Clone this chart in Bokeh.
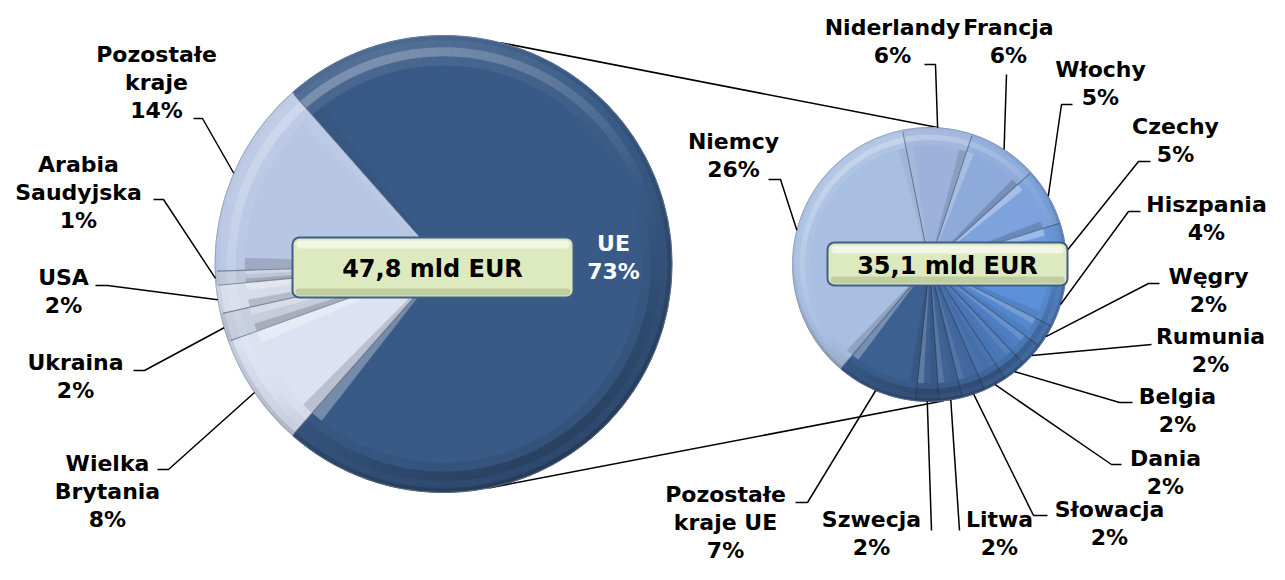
import math
import numpy as np
from bokeh.plotting import figure
from bokeh.models import Range1d, BoxAnnotation
from bokeh.core.properties import value
from bokeh.embed import file_html
from bokeh.resources import INLINE

# ---------------- data ----------------
left_names = ["UE", "Pozostałe\nkraje", "Arabia\nSaudyjska", "USA", "Ukraina", "Wielka\nBrytania"]
left_shares = [73, 14, 1, 2, 2, 8]
left_total = "47,8 mld EUR"

right_names = ["Niderlandy", "Francja", "Włochy", "Czechy", "Hiszpania", "Węgry", "Rumunia",
               "Belgia", "Dania", "Słowacja", "Litwa", "Szwecja", "Pozostałe\nkraje UE", "Niemcy"]
right_shares = [6, 6, 5, 5, 4, 2, 2, 2, 2, 2, 2, 2, 7, 26]
right_total = "35,1 mld EUR"

# ---------------- styles / layout ----------------
left_colors = ["#395A86", "#B7C6E3", "#BCC5D8", "#D6DCE9", "#C6CDDD", "#DCE2F2"]
right_colors = ["#9DB2DA", "#8DAADA", "#7DA2DC", "#6C9ADC", "#5C90D8", "#5587CD", "#4F7FC2",
                "#4A77B6", "#466FAA", "#43689F", "#406396", "#3D5E8E", "#3C6090", "#A9BFE1"]

W, H = 1269, 564
LCX, LCY, LR = 443.0, 263.5, 228.5
RCX, RCY, RR = 929.0, 264.0, 137.0
RIGHT_START = math.radians(101.4)
LIGHT = math.radians(118)
FONT = "DejaVu Sans"

left_label_pos = [(613, 257), (156, 82), (78, 192), (63, 291), (75, 376), (107, 491)]
left_leader = [None, [(193, 118), (202, 118)], [(153, 199), (163, 199)], [(95, 285), (107, 285)],
               [(133, 370), (144, 370)], [(157, 469), (168, 469)]]
right_label_pos = [(892, 41), (1008, 41), (1100, 83), (1175, 140), (1206, 218), (1208, 290),
                   (1210, 350), (1177, 410), (1165, 472), (1109, 523), (999, 533), (871, 533),
                   (725, 522), (733, 155)]
right_leader = [[(924, 64), (935, 64)], [(1006, 74)], [(1072, 104), (1061, 104)],
                [(1150, 161), (1138, 161)], [(1140, 211), (1128, 211)], [(1159, 283), (1148, 283)],
                [(1151, 344)], [(1132, 402), (1119, 402)], [(1121, 464), (1111, 464)],
                [(1047, 515), (1033, 515)], [(959, 530)], [(931, 530)],
                [(795, 502), (807, 502)], [(768, 179), (780, 179)]]


def Y(y):
    return -y


def blend(hexc, amt):
    r, g, b = int(hexc[1:3], 16), int(hexc[3:5], 16), int(hexc[5:7], 16)
    if amt >= 0:
        t = 255
    else:
        t = 0
        amt = -amt
    amt = min(amt, 1.0)
    r = round(r + (t - r) * amt)
    g = round(g + (t - g) * amt)
    b = round(b + (t - b) * amt)
    return "#%02x%02x%02x" % (r, g, b)


p = figure(width=W, height=H, output_backend="svg", toolbar_location=None,
           x_range=Range1d(0, W), y_range=Range1d(-H, 0),
           x_axis_type=None, y_axis_type=None, min_border=0)
p.grid.visible = False
p.outline_line_color = None
p.background_fill_color = "white"
p.border_fill_color = "white"


def angles_anticlock(shares, start):
    f = np.array(shares, dtype=float)
    f = f / f.sum() * 2 * np.pi
    cum = np.concatenate([[0.0], np.cumsum(f)])
    return start + cum[:-1], start + cum[1:]


def angles_clock(shares, start):
    f = np.array(shares, dtype=float)
    f = f / f.sum() * 2 * np.pi
    cum = np.concatenate([[0.0], np.cumsum(f)])
    return start - cum[1:], start - cum[:-1]


def draw_pie(cx, cy, r, starts, ends, colors):
    p.wedge(x=[cx] * len(starts), y=[Y(cy)] * len(starts), radius=r,
            start_angle=list(starts), end_angle=list(ends), fill_color=colors,
            line_color=colors, line_width=0.5)
    # radial bevel strips
    xs, ys, cs = [], [], []
    for s, e, c in zip(starts, ends, colors):
        rr = 0.9 * r
        arc = (e - s) * rr
        w = min(0.055 * r, 0.3 * arc)
        da = w / rr
        for edge, sign in ((s, 1), (e, -1)):
            normal = edge - sign * np.pi / 2
            sh = math.cos(normal - LIGHT)
            amt = 0.32 * sh if sh > 0 else 0.16 * sh
            col = blend(c, amt)
            xs.append([cx, cx + rr * math.cos(edge), cx + rr * math.cos(edge + sign * da)])
            ys.append([Y(cy), Y(cy) + rr * math.sin(edge), Y(cy) + rr * math.sin(edge + sign * da)])
            cs.append(col)
    p.patches(xs=xs, ys=ys, fill_color=cs, line_color=cs, line_width=0.5)
    # rim
    rings = [(0.87, 0.91, 0.08, 0.0), (0.91, 0.95, 0.30, 0.03),
             (0.95, 0.982, 0.16, -0.03), (0.982, 1.0, 0.22, -0.12)]
    ri_l, ro_l, a0_l, a1_l, col_l = [], [], [], [], []
    step = math.radians(2.0)
    for s, e, c in zip(starts, ends, colors):
        n = max(1, int(math.ceil((e - s) / step)))
        for j in range(n):
            a0 = s + j * (e - s) / n
            a1 = s + (j + 1) * (e - s) / n
            sh = math.cos((a0 + a1) / 2 - LIGHT)
            for ri, ro, k, b in rings:
                ri_l.append(ri * r)
                ro_l.append(ro * r)
                a0_l.append(a0)
                a1_l.append(a1)
                col_l.append(blend(c, k * sh + b))
    p.annular_wedge(x=[cx] * len(ri_l), y=[Y(cy)] * len(ri_l), inner_radius=ri_l, outer_radius=ro_l,
                    start_angle=a0_l, end_angle=a1_l, fill_color=col_l, line_color=col_l,
                    line_width=0.6)
    # boundary lines
    bx, by = [], []
    for s in starts:
        bx.append([cx, cx + r * 0.99 * math.cos(s)])
        by.append([Y(cy), Y(cy) + r * 0.99 * math.sin(s)])
    p.multi_line(xs=bx, ys=by, line_color="#1e2f48", line_alpha=0.45, line_width=1.1)
    p.circle(x=[cx], y=[Y(cy)], radius=r, fill_color=None, line_color="#7d8ba0",
             line_width=0.8, line_alpha=0.7)


ls, le = angles_anticlock(left_shares, -np.pi * left_shares[0] / sum(left_shares))
rs, re = angles_clock(right_shares, RIGHT_START)

# connectors between the pies
ta_l, ba_l = math.radians(75.6), math.radians(-78.6)
ta_r, ba_r = math.radians(86), math.radians(-84)
p.multi_line(
    xs=[[LCX + LR * math.cos(ta_l), RCX + RR * math.cos(ta_r)],
        [LCX + LR * math.cos(ba_l), RCX + RR * math.cos(ba_r)]],
    ys=[[Y(LCY) + LR * math.sin(ta_l), Y(RCY) + RR * math.sin(ta_r)],
        [Y(LCY) + LR * math.sin(ba_l), Y(RCY) + RR * math.sin(ba_r)]],
    line_color="black", line_width=1.6)

draw_pie(LCX, LCY, LR, ls, le, left_colors)
draw_pie(RCX, RCY, RR, rs, re, right_colors)

# leader lines
lx, ly = [], []
for s, e, pts in zip(ls, le, left_leader):
    if pts is None:
        continue
    m = (s + e) / 2
    lx.append([q[0] for q in pts] + [LCX + LR * math.cos(m)])
    ly.append([Y(q[1]) for q in pts] + [Y(LCY) + LR * math.sin(m)])
for s, e, pts in zip(rs, re, right_leader):
    m = (s + e) / 2
    lx.append([q[0] for q in pts] + [RCX + RR * math.cos(m)])
    ly.append([Y(q[1]) for q in pts] + [Y(RCY) + RR * math.sin(m)])
p.multi_line(xs=lx, ys=ly, line_color="black", line_width=1.5)

# labels
lab_x, lab_y, lab_t, lab_c = [], [], [], []
for i, (n, v) in enumerate(zip(left_names, left_shares)):
    lab_x.append(left_label_pos[i][0])
    lab_y.append(Y(left_label_pos[i][1]))
    lab_t.append(f"{n}\n{v}%")
    lab_c.append("white" if i == 0 else "black")
for i, (n, v) in enumerate(zip(right_names, right_shares)):
    lab_x.append(right_label_pos[i][0])
    lab_y.append(Y(right_label_pos[i][1]))
    lab_t.append(f"{n}\n{v}%")
    lab_c.append("black")
p.text(x=lab_x, y=lab_y, text=lab_t, text_color=lab_c, text_font=value(FONT),
       text_font_style="bold", text_font_size="22px", text_align="center",
       text_baseline="middle", text_line_height=1.12)

# total boxes
for (l, r_, t, b) in [(292, 573, 237, 297), (827, 1067, 242, 285)]:
    p.add_layout(BoxAnnotation(left=l, right=r_, top=Y(t), bottom=Y(b), fill_color="#DDE9BE",
                               fill_alpha=1, line_color="#3F5F86", line_alpha=1, line_width=2,
                               border_radius=7))
    p.add_layout(BoxAnnotation(left=l + 4, right=r_ - 4, top=Y(t + 3), bottom=Y(t + 11),
                               fill_color="white", fill_alpha=0.6, line_alpha=0, border_radius=4))
    p.add_layout(BoxAnnotation(left=l + 3, right=r_ - 3, top=Y(b - 9), bottom=Y(b - 2),
                               fill_color="#9FAE7E", fill_alpha=0.45, line_alpha=0, border_radius=4))
tb = p.text(x=[432, 947], y=[Y(268), Y(265)], text=[left_total, right_total], text_color="black",
            text_font=value(FONT), text_font_style="bold", text_font_size="24px",
            text_align="center", text_baseline="middle")
tb.level = "overlay"

open("out.html", "w").write(file_html(p, INLINE))
